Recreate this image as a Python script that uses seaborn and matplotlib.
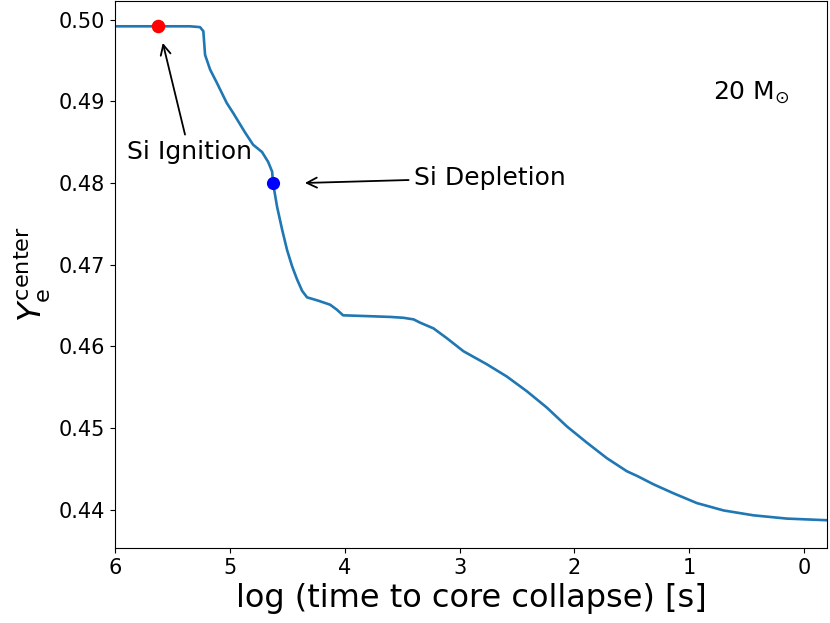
import numpy as np
import pandas as pd
import matplotlib
matplotlib.use('Agg')
import matplotlib.pyplot as plt
import seaborn as sns

# central Ye vs log(time to core collapse)
log_time = [6.0, 5.625, 5.347, 5.260, 5.231, 5.216, 5.172, 5.114, 5.027, 4.972,
            4.868, 4.798, 4.720, 4.667, 4.632, 4.624, 4.589, 4.545, 4.502, 4.458,
            4.415, 4.371, 4.328, 4.232, 4.127, 4.069, 4.014, 3.800, 3.600, 3.491,
            3.400, 3.343, 3.227, 3.111, 2.966, 2.762, 2.588, 2.414, 2.240, 2.066,
            1.891, 1.717, 1.543, 1.450, 1.311, 1.137, 0.933, 0.701, 0.440, 0.149,
            -0.200]
ye_center = [0.4992, 0.4992, 0.4992, 0.4991, 0.4986, 0.4957, 0.4939, 0.4923, 0.4898, 0.4886,
             0.4862, 0.4847, 0.4838, 0.4826, 0.4814, 0.4800, 0.4771, 0.4743, 0.4718, 0.4698,
             0.4682, 0.4668, 0.4660, 0.4656, 0.4651, 0.4645, 0.4638, 0.4637, 0.4636, 0.4635,
             0.4633, 0.4629, 0.4622, 0.4610, 0.4594, 0.4578, 0.4563, 0.4545, 0.4525, 0.4502,
             0.4482, 0.4463, 0.4447, 0.4441, 0.4431, 0.4420, 0.4408, 0.4399, 0.4393, 0.4389,
             0.4387]

si_ignition = (5.625, 0.4992)
si_depletion = (4.624, 0.4800)

df = pd.DataFrame({'logt': log_time, 'ye': ye_center})

fig = plt.figure(figsize=(8.3, 6.23), dpi=100)
ax = fig.add_subplot(111)
fig.subplots_adjust(left=0.1386, right=0.9964, top=0.9984, bottom=0.1204)

sns.lineplot(data=df, x='logt', y='ye', ax=ax, color='#1f77b4', linewidth=1.9,
             sort=False, estimator=None)

sns.scatterplot(x=[si_ignition[0]], y=[si_ignition[1]], ax=ax, color='red',
                s=95, linewidth=0, zorder=5)
sns.scatterplot(x=[si_depletion[0]], y=[si_depletion[1]], ax=ax, color='blue',
                s=90, linewidth=0, zorder=5)

ax.annotate('Si Ignition', xy=(5.59, 0.4975), xytext=(5.898, 0.48294),
            ha='left', va='baseline', fontsize=18,
            arrowprops=dict(arrowstyle='->', color='black', lw=1.3))
ax.annotate('Si Depletion', xy=(4.371, 0.4800), xytext=(3.395, 0.4798),
            ha='left', va='baseline', fontsize=18,
            arrowprops=dict(arrowstyle='->', color='black', lw=1.3))
ax.text(0.791, 0.4902, r'20 M$_{\odot}$', fontsize=18, ha='left', va='baseline')

ax.set_xlim(6, -0.2)
ax.set_ylim(0.4353, 0.5023)
ax.set_xticks([6, 5, 4, 3, 2, 1, 0])
ax.set_yticks([0.44, 0.45, 0.46, 0.47, 0.48, 0.49, 0.50])
ax.set_yticklabels(['0.44', '0.45', '0.46', '0.47', '0.48', '0.49', '0.50'])
ax.tick_params(labelsize=15)

ax.set_xlabel('log (time to core collapse) [s]', fontsize=23)
ax.set_ylabel(r'$Y_{\rm e}^{\rm center}$', fontsize=23)

plt.savefig('out.png', dpi=100)
